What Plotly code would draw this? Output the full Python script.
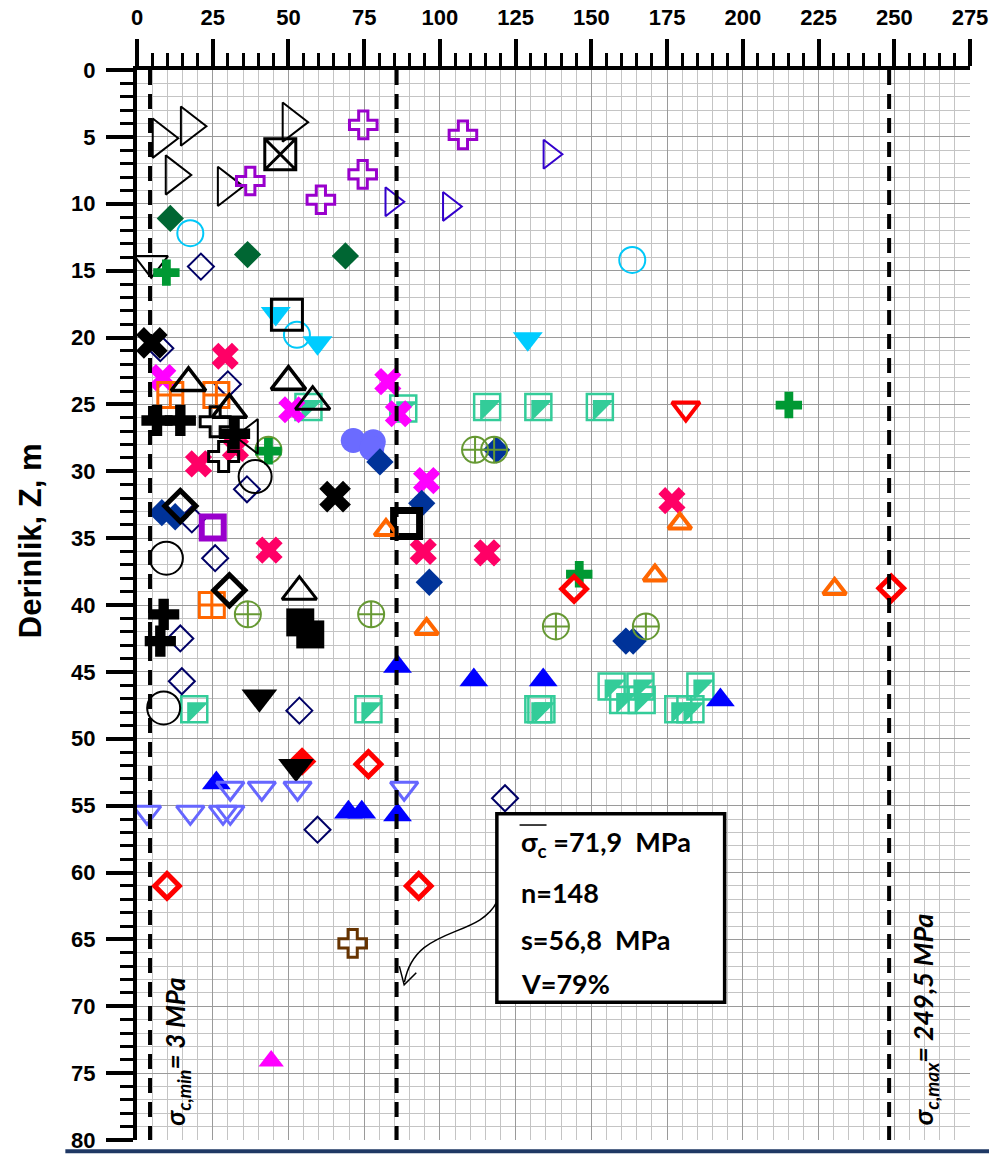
import plotly.graph_objects as go

# ---------------- data: sigma_c (MPa) vs depth Z (m) ----------------
tri_r_black_x = [8.0, 17.3, 12.3, 29.5, 50.9]
tri_r_black_y = [5.1, 4.2, 7.85, 8.7, 3.9]
sqx_black_x = [47.3]
sqx_black_y = [6.3]
cross_purple_x = [74.7, 74.5, 37.4, 60.7, 107.6]
cross_purple_y = [4.1, 7.8, 8.3, 9.7, 4.85]
tri_r_indigo_x = [84.1, 103.1, 136.3]
tri_r_indigo_y = [9.85, 10.2, 6.3]
dia_green_x = [11.0, 36.5, 68.8]
dia_green_y = [11.1, 13.8, 13.9]
circ_cyan_x = [17.6, 52.8, 163.5]
circ_cyan_y = [12.2, 19.8, 14.2]
tri_d_cyan_x = [45.8, 59.6, 129.0]
tri_d_cyan_y = [18.2, 20.4, 20.1]
sq_black_x = [49.5]
sq_black_y = [18.3]
tri_d_black_open_x = [4.7]
tri_d_black_open_y = [14.45]
cross_green_x = [9.7, 146.0, 215.2, 43.4]
cross_green_y = [15.15, 37.7, 25.05, 28.5]
dia_navy_x = [21.1, 7.7, 30.0, 36.3, 18.1, 25.8, 14.3, 14.8, 53.6, 59.6, 121.5]
dia_navy_y = [14.7, 20.8, 23.5, 31.35, 33.6, 36.5, 42.5, 45.7, 47.9, 56.8, 54.45]
x_black_x = [4.9, 65.4]
x_black_y = [20.4, 31.9]
x_crimson_x = [29.1, 20.3, 43.6, 94.5, 115.6, 176.6, 32.5]
x_crimson_y = [21.4, 29.45, 35.9, 36.0, 36.1, 32.2, 28.3]
x_magenta_x = [8.5, 82.8, 51.1, 86.3, 95.6]
x_magenta_y = [23.0, 23.3, 25.4, 25.7, 30.7]
sqc_orange_x = [11.0, 26.2, 24.7]
sqc_orange_y = [24.3, 24.3, 40.0]
tri_half_black_x = [17.0, 50.0, 30.5]
tri_half_black_y = [23.4, 23.3, 25.4]
tri_u_black_open_x = [58.0, 53.6]
tri_u_black_open_y = [24.8, 39.0]
tri_l_black_x = [37.4]
tri_l_black_y = [27.4]
cross_black_x = [6.6, 14.3, 32.2, 8.8, 7.7]
cross_black_y = [26.2, 26.2, 27.2, 40.7, 42.7]
crosso_black_x = [25.8, 28.6]
crosso_black_y = [26.3, 28.9]
circx_olive_x = [43.4, 36.6, 77.3, 111.6, 117.9, 138.3, 168.0]
circx_olive_y = [28.4, 40.7, 40.7, 28.4, 28.4, 41.6, 41.6]
circ_black_x = [39.0, 9.7, 8.8]
circ_black_y = [30.4, 36.5, 47.7]
dia_blue_x = [8.2, 12.6, 80.2, 94.0, 96.5, 118.7, 161.4, 163.8]
dia_blue_y = [33.1, 33.4, 29.3, 32.4, 38.3, 28.4, 42.7, 42.7]
diao_black_x = [14.3, 30.5]
diao_black_y = [32.6, 38.9]
sq_purple_x = [25.0]
sq_purple_y = [34.2]
sq_black_thick_x = [89.0]
sq_black_thick_y = [33.9]
sq_black_fill_x = [53.9, 57.2]
sq_black_fill_y = [41.3, 42.2]
sq_teal_x = [56.6, 87.9, 115.6, 132.5, 152.8, 18.9, 76.4, 132.5, 133.5,
             156.7, 160.5, 166.2, 166.6, 186.0, 178.7, 182.7]
sq_teal_y = [25.2, 25.3, 25.2, 25.2, 25.2, 47.8, 47.8, 47.8, 47.8,
             46.1, 47.1, 46.1, 47.1, 46.1, 47.8, 47.8]
tri_d_red_x = [181.2]
tri_d_red_y = [25.3]
tri_u_orange_x = [82.2, 179.2, 171.0, 95.6, 230.3]
tri_u_orange_y = [34.4, 33.9, 37.8, 41.8, 38.8]
dia_red_x = [144.3, 249.0, 76.4, 9.9, 93.0]
dia_red_y = [38.8, 38.75, 51.9, 61.0, 61.0]
dia_red_fill_x = [54.5]
dia_red_fill_y = [51.7]
tri_d_black_x = [40.4, 52.5]
tri_d_black_y = [46.9, 52.1]
tri_u_blue_x = [86.0, 111.2, 134.1, 192.6, 26.2, 69.8, 74.2, 86.0]
tri_u_blue_y = [44.6, 45.6, 45.6, 47.1, 53.3, 55.5, 55.5, 55.7]
tri_d_lblue_x = [3.3, 17.6, 28.4, 30.8, 30.8, 41.2, 53.0, 88.2]
tri_d_lblue_y = [55.5, 55.5, 55.5, 55.5, 53.7, 53.7, 53.7, 53.7]
tri_u_magenta_x = [44.3]
tri_u_magenta_y = [74.1]
cross_brown_x = [71.2]
cross_brown_y = [65.3]
circ_slate_x = [71.4, 78.0, 77.5]
circ_slate_y = [27.7, 27.8, 28.3]

# reference lines (position drawn) and labels
ref_lines_x = [4.3, 85.7, 248.3]
x_ticks = list(range(0, 276, 25))
y_ticks = list(range(0, 81, 5))
stats_lines = ["σ<sub>c</sub>\u00a0=71,9\u00a0\u00a0MPa", "n=148", "s=56,8\u00a0\u00a0MPa", "V=79%"]
stats_y = [57.8, 61.5, 65.0, 68.3]
min_label = "<b><i>σ<sub>c,min</sub>= 3 MPa</i></b>"
max_label = "<b><i>σ<sub>c,max</sub>= 249,5 MPa</i></b>"
y_title = "<b>Derinlik, Z, m</b>"

fig = go.Figure()


def add(xs, ys, symbol, size, color, lw=0, lcolor=None):
    fig.add_trace(go.Scatter(
        x=xs, y=ys, mode="markers", hoverinfo="skip", showlegend=False,
        marker=dict(symbol=symbol, size=size, color=color,
                    line=dict(width=lw, color=lcolor if lcolor else color))))


add(sq_teal_x, sq_teal_y, "triangle-nw", 23.5, "#33CC99")
add(sq_teal_x, sq_teal_y, "square-open", 26, "#33CC99", 2.5)
add(tri_r_black_x, tri_r_black_y, "triangle-right-open", 34, "black", 2)
add(sqx_black_x, sqx_black_y, "square-x-open", 31, "black", 3)
add(cross_purple_x, cross_purple_y, "cross-open", 23, "#9900CC", 3)
add(tri_r_indigo_x, tri_r_indigo_y, "triangle-right-open", 25, "#3300CC", 2)
add(dia_green_x, dia_green_y, "diamond", 21, "#006633")
add(circ_cyan_x, circ_cyan_y, "circle-open", 26, "#00C8F8", 2)
add(tri_d_cyan_x, tri_d_cyan_y, "triangle-down", 26, "#00CCFF")
add(sq_black_x, sq_black_y, "square-open", 31, "black", 3)
add(tri_d_black_open_x, tri_d_black_open_y, "triangle-down-open", 29, "black", 2)
add(dia_navy_x, dia_navy_y, "diamond-open", 20, "#000066", 2)
add(x_magenta_x, x_magenta_y, "x", 24, "#FF00FF")
add(x_crimson_x, x_crimson_y, "x", 24, "#FF0066")
add(x_black_x, x_black_y, "x", 28, "black")
add(sqc_orange_x, sqc_orange_y, "square-cross-open", 25, "#FF6600", 3)
add(circ_slate_x, circ_slate_y, "circle", 25, "#6B6BFF")
add(dia_blue_x, dia_blue_y, "diamond", 21, "#003399")
add(circx_olive_x, circx_olive_y, "circle-cross-open", 26, "#669933", 2)
add(cross_green_x, cross_green_y, "cross", 22, "#009933")
add(tri_l_black_x, tri_l_black_y, "triangle-left-open", 30, "black", 2)
add(crosso_black_x, crosso_black_y, "cross-open", 25, "black", 3)
add(cross_black_x, cross_black_y, "cross", 26, "black")
add(tri_half_black_x, tri_half_black_y, "triangle-up-open", 30, "black", 3.5)
add(tri_u_black_open_x, tri_u_black_open_y, "triangle-up-open", 30, "black", 3)
add(circ_black_x, circ_black_y, "circle-open", 33, "black", 2)
add(diao_black_x, diao_black_y, "diamond-open", 24, "black", 5)
add(sq_purple_x, sq_purple_y, "square-open", 22, "#9900CC", 6)
add(sq_black_thick_x, sq_black_thick_y, "square-open", 26, "black", 7)
add(sq_black_fill_x, sq_black_fill_y, "square", 28, "black")
add(tri_d_red_x, tri_d_red_y, "triangle-down-open", 24, "#FF0000", 4)
add(tri_u_orange_x, tri_u_orange_y, "triangle-up-open", 20, "#FF6600", 4)
add(dia_red_x, dia_red_y, "diamond-open", 19, "#FF0000", 5)
add(dia_red_fill_x, dia_red_fill_y, "diamond", 22, "#FF0000")
add(tri_d_black_x, tri_d_black_y, "triangle-down", 31, "black")
add(tri_u_blue_x, tri_u_blue_y, "triangle-up", 25, "#0000FF")
add(tri_d_lblue_x, tri_d_lblue_y, "triangle-down-open", 24, "#6666FF", 3)
add(tri_u_magenta_x, tri_u_magenta_y, "triangle-up", 22, "#FF00FF")
add(cross_brown_x, cross_brown_y, "cross-open", 23, "#663300", 3)

# dashed reference lines
for xv in ref_lines_x:
    fig.add_shape(type="line", x0=xv, x1=xv, y0=0, y1=80, xref="x", yref="y",
                  line=dict(color="black", width=4, dash="15px,9px"), layer="above")

# statistics box
fig.add_shape(type="rect", x0=118.8, x1=194.0, y0=55.6, y1=69.7, xref="x", yref="y",
              line=dict(color="black", width=3.5), fillcolor="white", layer="above")
for txt, yv in zip(stats_lines, stats_y):
    fig.add_annotation(x=126.0, y=yv, xref="x", yref="y", text="<b>" + txt + "</b>",
                       showarrow=False, xanchor="left", yanchor="middle",
                       font=dict(family="Lato, Open Sans, sans-serif", size=27, color="black"))
# overline on sigma
fig.add_shape(type="line", x0=126.3, x1=135.2, y0=56.45, y1=56.45, xref="x", yref="y",
              line=dict(color="black", width=1.5), layer="above")
# curved arrow
fig.add_shape(type="path", xref="x", yref="y", layer="above",
              path="M 118.8,62.2 C 112.6,65.0 91.8,63.9 88.3,68.2",
              line=dict(color="black", width=1.5))
fig.add_shape(type="path", xref="x", yref="y", layer="above",
              path="M 86.6,67.0 L 88.2,68.4 L 92.2,67.5",
              line=dict(color="black", width=1.5))

# vertical labels
fig.add_annotation(x=13.2, y=73.4, xref="x", yref="y", text=min_label, textangle=-90,
                   showarrow=False, font=dict(family="Lato, Open Sans, sans-serif", size=26, color="black"))
fig.add_annotation(x=260.0, y=71.0, xref="x", yref="y", text=max_label, textangle=-90,
                   showarrow=False, font=dict(family="Lato, Open Sans, sans-serif", size=27, color="black"))

# y-axis title
fig.add_annotation(x=-0.128, y=0.56, xref="paper", yref="paper", text=y_title, textangle=-90,
                   xanchor="center", yanchor="middle",
                   showarrow=False, font=dict(family="Liberation Sans, Arial", size=31, color="black"))

# bottom navy rule
fig.add_shape(type="line", xref="paper", yref="paper", x0=-0.086, x1=1.05, y0=-0.0105, y1=-0.0105,
              line=dict(color="#1F3864", width=4))

tick_font = dict(family="Liberation Sans Narrow, Arial Narrow, Liberation Sans, Arial", size=22,
                 color="black", weight="bold")

fig.update_xaxes(range=[0, 275], side="top", tickmode="array", tickvals=x_ticks,
                 ticktext=[str(v) for v in x_ticks], tickfont=tick_font, automargin=False,
                 showline=True, linecolor="black", linewidth=4, mirror=False,
                 ticks="outside", ticklen=27, tickwidth=3.5, tickcolor="black",
                 ticklabelstandoff=5,
                 showgrid=True, gridcolor="#9a9a9a", gridwidth=1.3, zeroline=False,
                 minor=dict(dtick=5, tick0=0, ticks="outside", ticklen=13, tickwidth=3,
                            tickcolor="black", showgrid=True, gridcolor="#c4c4c4", gridwidth=1.3))
fig.update_yaxes(range=[80, 0], tickmode="array", tickvals=y_ticks,
                 ticktext=[str(v) for v in y_ticks], tickfont=tick_font, automargin=False,
                 showline=True, linecolor="black", linewidth=4, mirror=False,
                 ticks="outside", ticklen=27, tickwidth=3.5, tickcolor="black",
                 ticklabelstandoff=6,
                 showgrid=True, gridcolor="#9a9a9a", gridwidth=1.3, zeroline=False,
                 minor=dict(dtick=1, tick0=0, ticks="outside", ticklen=13, tickwidth=3,
                            tickcolor="black", showgrid=True, gridcolor="#c4c4c4", gridwidth=1.3))

fig.update_layout(width=989, height=1155, margin=dict(l=137, r=19, t=70, b=15),
                  plot_bgcolor="white", paper_bgcolor="white", showlegend=False)

fig.write_html("out.html")
